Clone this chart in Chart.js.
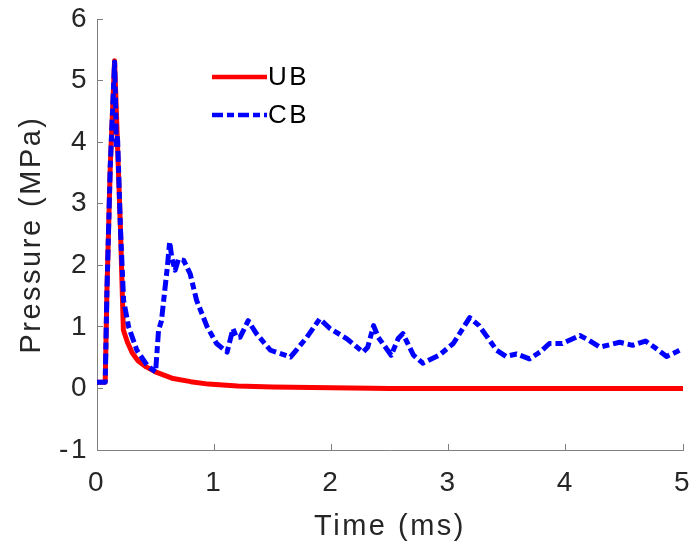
<!DOCTYPE html>
<html>
<head>
<meta charset="utf-8">
<script src="https://cdn.jsdelivr.net/npm/chart.js@4"></script>
<style>
  html, body { margin: 0; padding: 0; background: #fff; }
  #wrap { width: 693px; height: 550px; }
</style>
</head>
<body>
<div id="wrap"><canvas id="pressureChart"></canvas></div>
<script>
// UB: 壓力衰減曲線 (ms, MPa)
var timeUB = [0, 0.07, 0.085, 0.113, 0.15, 0.2, 0.225, 0.26, 0.3, 0.35, 0.42, 0.51, 0.65, 0.8, 0.95, 1.2, 1.5, 2.0, 2.5, 3, 4, 5];
var pressureUB = [0.1, 0.1, 1.6, 3.6, 5.32, 2.6, 0.95, 0.75, 0.58, 0.45, 0.35, 0.26, 0.16, 0.11, 0.07, 0.04, 0.025, 0.01, 0, 0, 0, 0];

// CB
var timeCB = [0, 0.07, 0.085, 0.113, 0.15, 0.16, 0.165, 0.175, 0.2, 0.227, 0.27, 0.34, 0.43, 0.5,
  0.525, 0.55, 0.6, 0.62, 0.64, 0.667, 0.695, 0.74, 0.795, 0.85, 0.94, 1.02, 1.11, 1.16, 1.19,
  1.22, 1.29, 1.36, 1.48, 1.65, 1.7, 1.79, 1.9, 1.99, 2.13, 2.27, 2.31, 2.36, 2.4, 2.51, 2.57,
  2.61, 2.7, 2.78, 2.92, 3.04, 3.18, 3.26, 3.41, 3.49, 3.58, 3.69, 3.78, 3.86, 3.97, 4.12, 4.2,
  4.29, 4.46, 4.57, 4.68, 4.77, 4.86, 4.94, 5.0];
var pressureCB = [0.1, 0.1, 1.6, 3.6, 5.3, 4.5, 3.9, 4.1, 2.6, 1.43, 1.0, 0.62, 0.37, 0.27,
  0.94, 1.1, 1.97, 2.38, 2.1, 1.92, 2.1, 2.08, 1.86, 1.43, 1.0, 0.73, 0.59, 0.97, 0.83,
  0.83, 1.1, 0.89, 0.62, 0.51, 0.62, 0.83, 1.13, 0.97, 0.81, 0.59, 0.67, 1.02, 0.83, 0.54, 0.81,
  0.89, 0.54, 0.41, 0.54, 0.73, 1.15, 1.02, 0.62, 0.52, 0.56, 0.48, 0.59, 0.73, 0.73, 0.86, 0.78,
  0.67, 0.75, 0.7, 0.77, 0.65, 0.52, 0.59, 0.65];

var xTicks = [0, 1, 2, 3, 4, 5];
var yTicks = [-1, 0, 1, 2, 3, 4, 5, 6];

var fontFamily = '"Liberation Sans", Arial, Helvetica, sans-serif';
var axisGray = '#808080';
var textColor = '#262626';

function toPoints(xs, ys) {
    return xs.map(function (x, i) { return { x: x, y: ys[i] }; });
}

// 字距加寬
var wideText = {
    id: 'wideText',
    beforeDraw: function (chart) {
        chart.ctx.letterSpacing = '2.5px';
    }
};

// 圖例畫在繪圖區內
var insetLegend = {
    id: 'insetLegend',
    afterDraw: function (chart) {
        var ctx = chart.ctx;
        var area = chart.chartArea;
        var x0 = area.left + 115, y0 = area.top + 58, rowGap = 38, lineLen = 55;
        chart.data.datasets.forEach(function (ds, i) {
            var y = y0 + i * rowGap;
            ctx.save();
            ctx.strokeStyle = ds.borderColor;
            ctx.lineWidth = 4.5;
            ctx.setLineDash(ds.borderDash || []);
            ctx.beginPath();
            ctx.moveTo(x0, y);
            ctx.lineTo(x0 + lineLen, y);
            ctx.stroke();
            ctx.fillStyle = '#000';
            ctx.font = '26px ' + fontFamily;
            ctx.textBaseline = 'middle';
            ctx.fillText(ds.label, x0 + lineLen + 1, y + 1);
            ctx.restore();
        });
    }
};

var ctx = document.getElementById('pressureChart').getContext('2d');
var pressureChart = new Chart(ctx, {
    type: 'line',
    data: {
        datasets: [{
            label: 'UB',
            data: toPoints(timeUB, pressureUB),
            borderColor: '#FF0000',
            borderWidth: 5,
            borderJoinStyle: 'round',
            pointRadius: 0,
            fill: false,
            order: 1
        }, {
            label: 'CB',
            data: toPoints(timeCB, pressureCB),
            borderColor: '#0000FF',
            borderWidth: 5,
            borderDash: [11, 4, 7, 4],
            borderJoinStyle: 'round',
            pointRadius: 0,
            fill: false,
            order: 0
        }]
    },
    options: {
        responsive: true,
        maintainAspectRatio: false,
        animation: false,
        layout: { padding: { left: 0, right: 10, top: 19, bottom: 0 } },
        plugins: {
            legend: { display: false },
            tooltip: { enabled: false }
        },
        elements: { line: { tension: 0 } },
        scales: {
            x: {
                type: 'linear',
                min: xTicks[0],
                max: xTicks[xTicks.length - 1],
                afterBuildTicks: function (scale) {
                    scale.ticks = xTicks.map(function (v) { return { value: v }; });
                },
                ticks: {
                    color: textColor,
                    font: { family: fontFamily, size: 28 },
                    padding: 22,
                    maxRotation: 0
                },
                grid: { drawOnChartArea: false, tickLength: -6, tickColor: axisGray },
                border: { color: axisGray, width: 1 },
                title: {
                    display: true,
                    text: 'Time (ms)',
                    color: textColor,
                    font: { family: fontFamily, size: 29 },
                    padding: { top: 0, bottom: 6 }
                },
                afterFit: function (scale) {
                    scale.height = 100;
                    scale.paddingLeft = 0;
                    scale.paddingRight = 0;
                }
            },
            y: {
                type: 'linear',
                min: yTicks[0],
                max: yTicks[yTicks.length - 1],
                afterBuildTicks: function (scale) {
                    scale.ticks = yTicks.map(function (v) { return { value: v }; });
                },
                ticks: {
                    color: textColor,
                    font: { family: fontFamily, size: 28 },
                    padding: 14
                },
                grid: { drawOnChartArea: false, tickLength: -6, tickColor: axisGray },
                border: { color: axisGray, width: 1 },
                title: {
                    display: true,
                    text: 'Pressure (MPa)',
                    color: textColor,
                    font: { family: fontFamily, size: 29 },
                    padding: { top: 15, bottom: 0 }
                },
                afterFit: function (scale) {
                    scale.width = 97;
                    scale.paddingTop = 0;
                    scale.paddingBottom = 0;
                }
            }
        }
    },
    plugins: [wideText, insetLegend]
});
</script>
</body>
</html>
